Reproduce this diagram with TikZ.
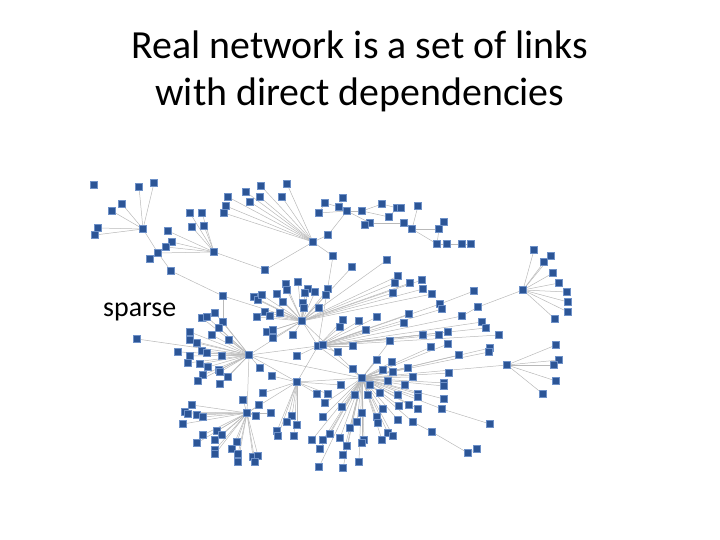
\documentclass[tikz,border=0pt]{standalone}
\usepackage{fontspec}
\setmainfont{Carlito}
\usetikzlibrary{backgrounds}
\definecolor{nblue}{RGB}{44,85,150}
\definecolor{nrim}{RGB}{110,145,200}
\definecolor{egray}{RGB}{185,185,185}
\tikzset{
  nd/.style={rectangle, inner sep=0pt, minimum size=6.3bp, fill=nblue, draw=nrim, line width=0.8bp},
  ed/.style={draw=egray, line width=0.5bp},
  ttl/.style={font=\fontsize{40}{48}\selectfont, inner sep=0pt, anchor=base},
}
\newcommand\netgrp[3]{%
  \foreach \x/\y [count=\i] in {#3}{%
    \node[nd] (#2\i) at (\x,\y) {};
    \begin{pgfonlayer}{background}\draw[ed] (#1) -- (#2\i);\end{pgfonlayer}
  }}
\begin{document}
\begin{tikzpicture}[x=1bp,y=-1bp]
\useasboundingbox (0,0) rectangle (720,540);
\node[ttl] (t1) at (360,59) {Real network is a set of links};
\node[ttl] (t2) at (360,106) {with direct dependencies};
\node[font=\fontsize{28}{32}\selectfont, inner sep=0pt, anchor=base west] (sp) at (103,316) {sparse};

% hubs
\node[nd] (hA) at (143,229) {};
\node[nd] (hB) at (214,252) {};
\node[nd] (hC) at (313,242) {};
\node[nd] (hE) at (523,290) {};
\node[nd] (hT) at (302,321) {};
\node[nd] (hL) at (249,355) {};
\node[nd] (hM) at (318,346) {};
\node[nd] (hR) at (362,378) {};
\node[nd] (hP) at (297,382) {};
\node[nd] (hQ) at (247,413) {};

% single nodes
\node[nd] (s1) at (94,185) {};
\node[nd] (b8) at (158,253) {};
\node[nd] (s2) at (150,259) {};
\node[nd] (s3) at (171,271) {};
\node[nd] (s4) at (223,296) {};
\node[nd] (m1) at (265,270) {};
\node[nd] (c11) at (328,235) {};
\node[nd] (r1) at (507,365) {};
\node[nd] (r2) at (442,409) {};
\node[nd] (r3) at (413,422) {};
\node[nd] (r4) at (440,304) {};
\node[nd] (r5) at (462,316) {};
\node[nd] (r6) at (478,307) {};
\node[nd] (r7) at (474,291) {};
\node[nd] (r8) at (333,256) {};
\node[nd] (r9) at (223,322) {};
\node[nd] (k1) at (556,345) {};
\node[nd] (k2) at (559,360) {};
\node[nd] (k3) at (554,365) {};
\node[nd] (k4) at (556,381) {};
\node[nd] (k5) at (543,394) {};
\node[nd] (k6) at (490,424) {};
\node[nd] (k7) at (432,432) {};
\node[nd] (k8) at (468,453) {};
\node[nd] (k9) at (477,449) {};
% upper right chain
\foreach \n/\x/\y in {d1/343/198,d2/325/203,d3/319/213,d4/339/207,d5/347/211,d6/362/211,d7/382/204,d8/397/208,d9/401/208,d10/389/217,d11/370/223,d12/365/225,d13/404/223,d15/418/206,d16/412/229,d17/444/222,d18/439/229,d19/437/244,d20/447/244,d21/462/244,d22/471/244}
  {\node[nd] (\n) at (\x,\y) {};}

% groups around hubs
\netgrp{hA}{gA}{139/187,154/183,122/204,112/211,98/228,95/235}
\netgrp{hB}{gB}{190/213,202/213,192/227,204/226,168/231,172/242,166/247}
\netgrp{hC}{gC}{228/197,246/192,226/206,224/213,250/202,260/197,261/186,282/197,287/184}
\netgrp{hE}{gE}{534/250,551/256,544/262,553/273,559/283,567/292,568/302,568/312,555/319}
\netgrp{hT}{gT}{254/297,258/300,262/295,277/294,286/284,287/290,298/282,308/289,315/292,305/293,328/289,326/295,283/302,303/303,304/308,319/308,257/317,265/312,270/316,280/313,267/332,273/330,273/338,293/335,393/293,395/283,398/276,410/283,422/280,423/289,432/294,352/267,387/260}
\netgrp{hL}{gL}{202/318,207/317,215/313,219/328,137/339,190/332,190/340,197/343,212/335,229/340,178/352,190/356,202/351,207/353,222/356,188/363,200/364,208/367,219/370,260/368,203/375,198/381,220/372,228/377,220/384}
\netgrp{hM}{gM}{297/356,338/352,353/346,343/320,340/327,359/321,366/330,377/317,404/323,409/314,442/309,482/322,486/328,423/335,439/335,448/332,499/335,323/345}
\netgrp{hR}{gR}{431/347,448/344,490/348,489/352,459/355,449/373,444/383,444/386,418/394,418/397,444/399,409/405,418/409,370/385,355/395,368/395,380/393,398/395,388/381,405/385,383/370,393/372,408/368,413/377,353/369,377/360,392/362,390/341,325/403,342/407,323/417,362/413,357/422,383/409,377/417,378/423,399/406,398/420,350/428,330/434,323/440,312/440,340/438,347/446,364/440,362/443,382/440,388/433,393/436,320/449,343/455,359/462,319/467,343/468}
\netgrp{hP}{gP}{272/376,263/393,292/416,287/422,297/425,277/431,278/436,294/436,317/394,328/394,341/385}
\netgrp{hQ}{gQ}{243/400,192/405,185/412,188/414,197/415,203/417,183/424,203/435,197/443,217/431,222/435,215/440,237/442,232/449,215/450,215/454,238/454,238/462,259/405,256/416,271/413,253/457,258/456,255/462}

\begin{pgfonlayer}{background}
\foreach \a/\b in {hA/b8,hB/b8,b8/s2,b8/s3,s3/s4,s4/hT,s4/r9,r9/hL,hB/m1,m1/hC,hC/r8,r8/hM,hC/c11,c11/d5,
  d2/d3,d2/d4,d1/d4,d3/d5,d4/d5,d5/d6,d6/d7,d7/d8,d8/d9,d10/d8,d6/d10,d11/d5,d12/d11,d11/d13,d13/d16,d15/d16,d16/d18,d17/d18,d16/d19,d18/d19,d19/d20,d20/d21,d21/d22,
  hE/r6,r6/r5,r5/hM,r7/r4,r4/hM,hR/r1,r1/k1,r1/k2,r1/k3,r1/k4,r1/k5,hR/r2,r2/k6,hR/r3,r3/k7,k7/k8,k8/k9,
  hL/hM,hM/hR,hT/hM,hL/hQ,hP/hQ,hP/hR,hP/hM,hT/hL,hP/hL,hT/hR,hL/hR}
  {\draw[ed] (\a) -- (\b);}
\end{pgfonlayer}
\end{tikzpicture}
\end{document}
